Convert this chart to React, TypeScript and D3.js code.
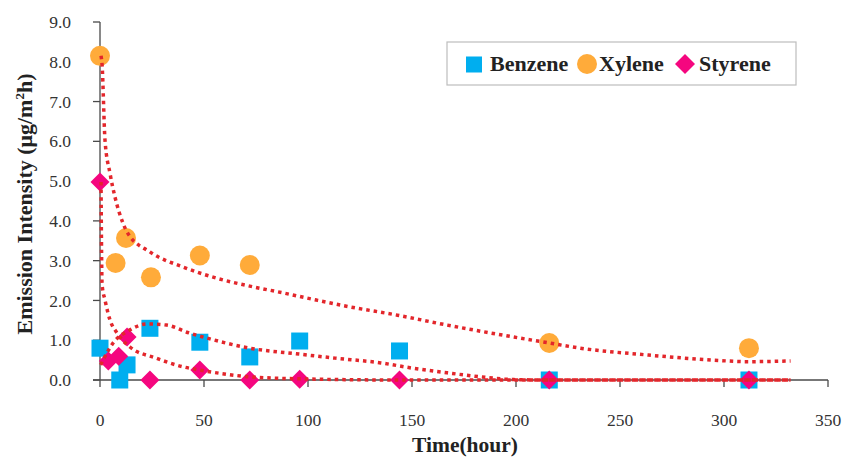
import React from "react";
import * as d3 from "d3";

const benzeneTime = [0, 9.5, 13, 24, 48, 72, 96, 144, 216, 312];
const benzeneValue = [0.8, 0.0, 0.38, 1.3, 0.95, 0.58, 0.98, 0.73, 0, 0];

const xyleneTime = [0, 7.5, 12.5, 24.5, 48, 72, 216, 312];
const xyleneValue = [8.15, 2.94, 3.57, 2.58, 3.13, 2.89, 0.93, 0.8];

const styreneTime = [0, 4, 9, 13, 24, 48, 72, 96, 144, 216, 312];
const styreneValue = [4.98, 0.48, 0.6, 1.08, 0, 0.25, 0, 0.02, 0, 0, 0];

// trendlines
const xyleneTrendT = [0.5, 1, 2.4, 4.8, 7.2, 11, 13, 24, 40, 56, 72, 88, 104, 120, 143, 167, 199, 216, 231, 263, 295, 311, 332];
const xyleneTrendY = [8.15, 7.92, 6.03, 5.2, 4.6, 3.95, 3.72, 3.22, 2.84, 2.56, 2.36, 2.19, 2.01, 1.84, 1.63, 1.38, 1.08, 0.93, 0.8, 0.63, 0.5, 0.46, 0.48];

const benzeneTrendT = [0.3, 6.3, 14.4, 22.6, 32, 43, 51, 72, 96, 113, 135, 150, 167, 183, 199, 216, 332];
const benzeneTrendY = [0.38, 0.93, 1.26, 1.41, 1.38, 1.18, 1.06, 0.8, 0.65, 0.55, 0.43, 0.3, 0.18, 0.08, 0.01, 0, 0];

const styreneTrendT = [0.5, 0.7, 1.0, 2.4, 4.8, 8.2, 14.4, 27, 40, 48, 72, 96, 144, 216, 332];
const styreneTrendY = [4.98, 3.52, 2.4, 2.01, 1.51, 1.18, 0.83, 0.55, 0.33, 0.25, 0.08, 0.03, 0, 0, 0];

const xTicks = [0, 50, 100, 150, 200, 250, 300, 350];
const yTicks = [0, 1, 2, 3, 4, 5, 6, 7, 8, 9];

const legendNames = ["Benzene", "Xylene", "Styrene"];

const C_BENZ = "#00AEEF";
const C_XYL = "#FFAB3A";
const C_STY = "#F5067F";
const C_TREND = "#E3262B";
const AXIS = "#4a4a4a";
const FONT = "'Liberation Serif', 'Times New Roman', serif";

export default function App() {
  const x = d3.scaleLinear().domain([0, 350]).range([100, 828]);
  const y = d3.scaleLinear().domain([0, 9]).range([380, 22]);

  const line = d3
    .line<[number, number]>()
    .x((d) => x(d[0]))
    .y((d) => y(d[1]))
    .curve(d3.curveMonotoneX);

  const trend = (ts: number[], vs: number[]) =>
    line(ts.map((t, i) => [t, vs[i]] as [number, number])) || "";

  const diamond = (cx: number, cy: number, r: number) =>
    `M${cx},${cy - r}L${cx + r},${cy}L${cx},${cy + r}L${cx - r},${cy}Z`;

  return (
    <svg
      width={843}
      height={463}
      style={{ position: "absolute", left: 0, top: 0, background: "#fff" }}
      fontFamily={FONT}
    >
      <rect x={0} y={0} width={843} height={463} fill="#fff" />
      {/* axes */}
      <line x1={x(0)} x2={x(0)} y1={y(9)} y2={y(0)} stroke={AXIS} strokeWidth={1.3} />
      <line x1={93} x2={x(350)} y1={y(0)} y2={y(0)} stroke={AXIS} strokeWidth={1.3} />
      {yTicks.map((t) => (
        <g key={"y" + t}>
          <line x1={93} x2={x(0)} y1={y(t)} y2={y(t)} stroke={AXIS} strokeWidth={1.3} />
          <text x={71} y={y(t)} dy="0.35em" textAnchor="end" fontSize={17.5} fill="#333">
            {t.toFixed(1)}
          </text>
        </g>
      ))}
      {xTicks.map((t) => (
        <g key={"x" + t}>
          <line x1={x(t)} x2={x(t)} y1={y(0)} y2={y(0) + 7} stroke={AXIS} strokeWidth={1.3} />
          <text x={x(t)} y={426} textAnchor="middle" fontSize={17.5} fill="#333">
            {t}
          </text>
        </g>
      ))}
      <text x={465} y={452} textAnchor="middle" fontSize={21.5} fontWeight="bold" fill="#222">
        Time(hour)
      </text>
      <text
        transform="translate(32,204) rotate(-90)"
        textAnchor="middle"
        fontSize={22}
        fontWeight="bold"
        fill="#222"
      >
        Emission Intensity (μg/m
        <tspan dy={-8} fontSize={13}>2</tspan>
        <tspan dy={8}>h)</tspan>
      </text>

      {/* markers */}
      {benzeneTime.map((t, i) => (
        <rect
          key={"b" + i}
          x={x(t) - 8.5}
          y={y(benzeneValue[i]) - 8.5}
          width={17}
          height={17}
          fill={C_BENZ}
        />
      ))}
      {xyleneTime.map((t, i) => (
        <circle key={"x" + i} cx={x(t)} cy={y(xyleneValue[i])} r={10} fill={C_XYL} />
      ))}
      {styreneTime.map((t, i) => (
        <path key={"s" + i} d={diamond(x(t), y(styreneValue[i]), 9.5)} fill={C_STY} />
      ))}

      {/* trendlines */}
      {[
        trend(xyleneTrendT, xyleneTrendY),
        trend(benzeneTrendT, benzeneTrendY),
        trend(styreneTrendT, styreneTrendY),
      ].map((d, i) => (
        <path
          key={"tr" + i}
          d={d}
          fill="none"
          stroke={C_TREND}
          strokeWidth={3.5}
          strokeDasharray="3.5 4"
        />
      ))}

      {/* legend */}
      <rect x={447} y={42} width={349} height={43} fill="#fff" stroke="#bdbdbd" strokeWidth={1.2} />
      <rect x={466} y={56.5} width={16} height={16} fill={C_BENZ} />
      <text x={490} y={71} fontSize={22} fontWeight="bold" fill="#222">
        {legendNames[0]}
      </text>
      <circle cx={587} cy={64} r={10} fill={C_XYL} />
      <text x={599} y={71} fontSize={22} fontWeight="bold" fill="#222">
        {legendNames[1]}
      </text>
      <path d={diamond(685, 64, 10)} fill={C_STY} />
      <text x={699} y={71} fontSize={22} fontWeight="bold" fill="#222">
        {legendNames[2]}
      </text>
    </svg>
  );
}
